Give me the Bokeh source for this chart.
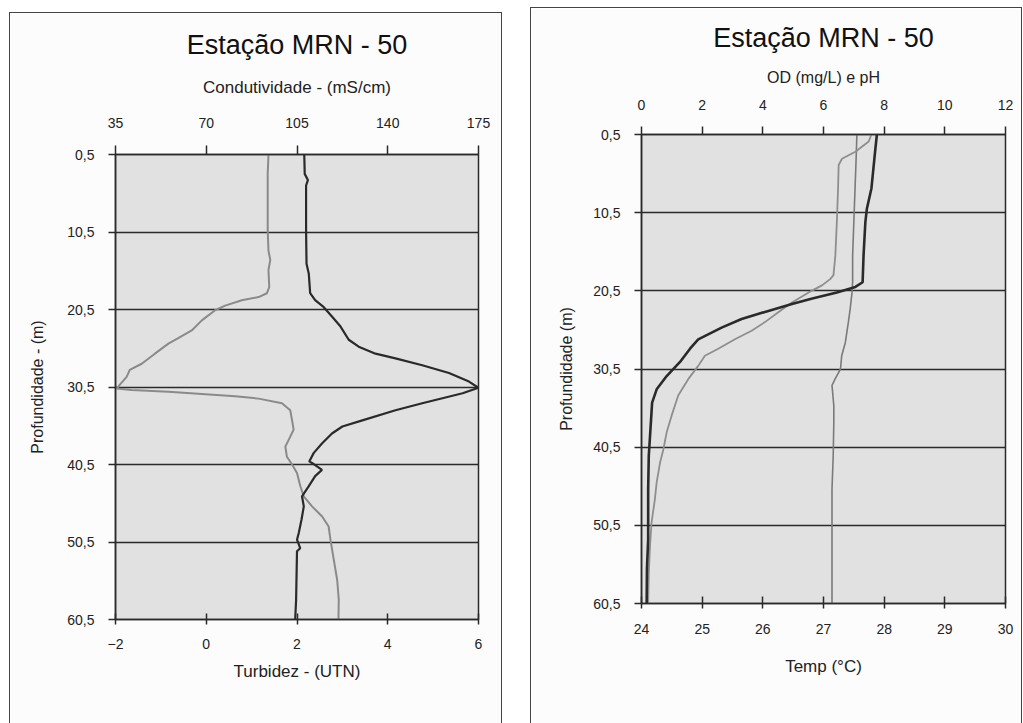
from bokeh.plotting import figure
from bokeh.models import Range1d, LinearAxis, FixedTicker, Legend, LegendItem
from bokeh.layouts import row, column
from bokeh.embed import file_html
from bokeh.resources import INLINE

FONT = "Liberation Sans"

# ---------------- data ----------------
depth_ticks = [0.5, 10.5, 20.5, 30.5, 40.5, 50.5, 60.5]
depth_labels = ["0,5", "10,5", "20,5", "30,5", "40,5", "50,5", "60,5"]

cond_ticks = [35, 70, 105, 140, 175]
turb_ticks = [-2, 0, 2, 4, 6]
od_ticks = [0, 2, 4, 6, 8, 10, 12]
temp_ticks = [24, 25, 26, 27, 28, 29, 30]

# Left: turbidity (UTN) vs depth
turb_depth = [0.5, 3.0, 3.8, 4.5, 10.3, 14.6, 15.9, 18.4, 19.3, 20.2, 21.4, 22.7, 24.4,
              25.3, 26.2, 26.8, 27.7, 28.7, 29.8, 30.6, 31.3, 32.6, 33.5, 34.8, 35.6,
              36.5, 37.8, 39.0, 40.1, 40.3, 41.2, 42.0, 43.3, 44.6, 45.9, 47.6, 49.3,
              50.2, 51.3, 51.7, 58.0, 60.5]
turb_vals = [2.16, 2.17, 2.24, 2.20, 2.20, 2.21, 2.26, 2.29, 2.40, 2.59, 2.77, 2.96, 3.14,
             3.36, 3.73, 4.17, 4.76, 5.35, 5.79, 6.00, 5.65, 4.76, 4.17, 3.44, 3.00,
             2.77, 2.55, 2.37, 2.27, 2.33, 2.55, 2.40, 2.26, 2.11, 2.15, 2.10, 2.04,
             2.00, 2.07, 2.00, 1.98, 1.96]

# Left: specific conductance (mS/cm) vs depth
cond_depth = [0.5, 3.0, 10.3, 12.9, 14.1, 15.4, 17.6, 18.4, 18.9, 19.3, 20.0, 20.6, 21.9,
              23.2, 24.2, 24.9, 26.2, 27.5, 28.3, 29.2, 30.2, 30.7, 30.9, 31.1, 31.4,
              31.7, 32.0, 32.6, 33.5, 34.8, 36.0, 36.9, 38.2, 39.5, 40.5, 41.6, 43.3,
              44.6, 45.9, 47.2, 48.5, 50.2, 52.8, 55.4, 57.9, 60.5]
cond_vals = [94.0, 93.7, 93.7, 94.0, 94.7, 94.0, 94.3, 93.4, 90.2, 83.7, 77.3, 73.4, 68.3,
             64.4, 59.2, 55.4, 50.2, 45.1, 40.5, 39.3, 36.7, 35.4, 41.2, 55.4, 68.3,
             81.2, 90.2, 99.2, 102.4, 103.1, 103.7, 102.4, 100.5, 101.1, 103.1, 105.0, 106.3,
             107.6, 110.8, 114.7, 117.2, 117.9, 119.2, 120.5, 121.1, 121.0]

# Right: OD (mg/L) vs depth
od_depth = [0.5, 3.1, 7.4, 10.0, 11.7, 16.0, 19.4, 20.0, 20.7, 21.5, 22.2, 23.2, 24.1,
            25.2, 26.7, 27.9, 29.6, 31.4, 33.1, 34.8, 37.3, 41.6, 45.9, 52.3, 56.0, 60.5]
od_vals = [7.76, 7.69, 7.58, 7.43, 7.38, 7.32, 7.29, 7.05, 6.44, 5.60, 4.96, 4.07, 3.30,
           2.64, 1.87, 1.60, 1.27, 0.83, 0.50, 0.35, 0.31, 0.24, 0.22, 0.22, 0.18, 0.17]

# Right: pH vs depth
ph_depth = [0.5, 1.4, 2.7, 3.6, 4.4, 7.4, 11.7, 16.0, 18.5, 19.0, 19.8, 20.7, 22.0, 23.2,
            24.5, 25.6, 26.7, 27.9, 28.8, 30.1, 31.8, 33.9, 36.5, 38.6, 40.8, 42.5, 45.0,
            47.2, 50.2, 53.2, 56.6, 60.5]
ph_vals = [7.58, 7.49, 7.05, 6.61, 6.50, 6.48, 6.44, 6.39, 6.33, 6.22, 5.95, 5.51, 4.96, 4.52,
           4.07, 3.63, 3.08, 2.53, 2.09, 1.87, 1.54, 1.21, 0.99, 0.83, 0.72, 0.61, 0.50,
           0.44, 0.33, 0.28, 0.24, 0.22]

# Right: temperature (°C) vs depth
temp_depth = [0.5, 3.1, 7.4, 11.7, 16.0, 19.4, 20.7, 22.8, 24.5, 27.1, 28.8, 30.5, 31.8,
              32.6, 35.2, 37.3, 41.6, 45.9, 60.5]
temp_vals = [27.55, 27.54, 27.52, 27.50, 27.48, 27.48, 27.47, 27.44, 27.41, 27.36, 27.30,
             27.28, 27.19, 27.14, 27.17, 27.17, 27.16, 27.14, 27.14]

# ---------------- styling helpers ----------------
BG = "#e1e1e1"
DARK = "#2a2a2a"
PAGE = "#fcfcfc"


def style_axis(ax, size="14px"):
    ax.major_label_text_font = FONT
    ax.major_label_text_font_size = size
    ax.major_label_text_color = "#222222"
    ax.axis_label_text_font = FONT
    ax.axis_label_text_font_style = "normal"
    ax.axis_label_text_color = "#222222"
    ax.axis_line_color = DARK
    ax.axis_line_width = 1.5
    ax.major_tick_line_color = DARK
    ax.major_tick_line_width = 1.5
    ax.minor_tick_line_color = None


def depth_axis(p, label, label_size, standoff_lbl, standoff_ticks):
    ax = p.left[0]
    ax.ticker = FixedTicker(ticks=depth_ticks)
    ax.major_label_overrides = {t: l for t, l in zip(depth_ticks, depth_labels)}
    style_axis(ax)
    ax.axis_label = label
    ax.axis_label_text_font_size = label_size
    ax.axis_label_standoff = standoff_lbl
    ax.major_tick_out = 7
    ax.major_tick_in = 0
    ax.major_label_standoff = standoff_ticks
    p.ygrid.ticker = FixedTicker(ticks=depth_ticks)
    p.ygrid.grid_line_color = DARK
    p.ygrid.grid_line_width = 1.4
    p.xgrid.grid_line_color = None


def base_fig(fw, fh, xr, borders, xloc):
    l, r, t, b = borders
    p = figure(frame_width=fw, frame_height=fh, x_range=xr, y_range=Range1d(60.5, 0.5),
               output_backend="svg", toolbar_location=None, x_axis_location=xloc,
               min_border_left=l, min_border_right=r, min_border_top=t, min_border_bottom=b,
               background_fill_color=BG, border_fill_color=PAGE,
               outline_line_color=DARK, outline_line_width=1.5)
    return p


def style_title(p, standoff):
    p.title.text = "Estação MRN - 50"
    p.title.text_font = FONT
    p.title.text_font_size = "27px"
    p.title.text_font_style = "normal"
    p.title.align = "center"
    p.title.text_color = "#111111"
    p.title.standoff = standoff


# ---------------- left figure ----------------
p1 = base_fig(363, 465, Range1d(-2, 6), (105, 23, 141, 102), "below")
style_title(p1, 29)

bx1 = p1.below[0]
bx1.ticker = FixedTicker(ticks=turb_ticks)
style_axis(bx1)
bx1.axis_label = "Turbidez - (UTN)"
bx1.axis_label_text_font_size = "17px"
bx1.axis_label_standoff = 10
bx1.major_tick_out = 5
bx1.major_tick_in = 6
bx1.major_label_standoff = 14

p1.extra_x_ranges = {"cond": Range1d(35, 175)}
top1 = LinearAxis(x_range_name="cond", ticker=FixedTicker(ticks=cond_ticks))
style_axis(top1)
top1.axis_label = "Condutividade - (mS/cm)"
top1.axis_label_text_font_size = "17px"
top1.axis_label_standoff = 18
top1.major_tick_out = 9
top1.major_tick_in = 0
top1.major_label_standoff = 18
p1.add_layout(top1, "above")

depth_axis(p1, "Profundidade - (m)", "16px", 18, 14)

r_cond = p1.line(cond_vals, cond_depth, x_range_name="cond", line_color="#8a8a8a", line_width=2)
r_turb = p1.line(turb_vals, turb_depth, line_color=DARK, line_width=2.2)

leg1 = Legend(items=[LegendItem(label="SpCond", renderers=[r_cond]),
                     LegendItem(label="Turbidity", renderers=[r_turb])],
              orientation="horizontal", location="center",
              label_text_font=FONT, label_text_font_size="15px",
              glyph_width=48, glyph_height=14, label_standoff=3, spacing=10,
              padding=2, margin=0, border_line_color=None, background_fill_alpha=0)
p1.add_layout(leg1, "below")

# ---------------- right figure ----------------
p2 = base_fig(364, 469, Range1d(0, 12), (110, 16, 125, 119), "above")
style_title(p2, 25)

top2 = p2.above[0]
top2.ticker = FixedTicker(ticks=od_ticks)
style_axis(top2)
top2.axis_label = "OD (mg/L) e pH"
top2.axis_label_text_font_size = "16px"
top2.axis_label_standoff = 11
top2.major_tick_out = 8
top2.major_tick_in = 0
top2.major_label_standoff = 17

p2.extra_x_ranges = {"temp": Range1d(24, 30)}
bx2 = LinearAxis(x_range_name="temp", ticker=FixedTicker(ticks=temp_ticks))
style_axis(bx2)
bx2.axis_label = "Temp (°C)"
bx2.axis_label_text_font_size = "17px"
bx2.axis_label_standoff = 20
bx2.major_tick_out = 5
bx2.major_tick_in = 7
bx2.major_label_standoff = 15
p2.add_layout(bx2, "below")

depth_axis(p2, "Profundidade (m)", "16px", 15, 14)

r_temp = p2.line(temp_vals, temp_depth, x_range_name="temp", line_color="#7a7a7a", line_width=1.6)
r_ph = p2.line(ph_vals, ph_depth, line_color="#8e8e8e", line_width=1.8)
r_od = p2.line(od_vals, od_depth, line_color=DARK, line_width=2.6)

leg2 = Legend(items=[LegendItem(label="OD (mg/L)", renderers=[r_od]),
                     LegendItem(label="pH", renderers=[r_ph]),
                     LegendItem(label="Temp (°C)", renderers=[r_temp])],
              orientation="horizontal", location="center",
              label_text_font=FONT, label_text_font_size="16px",
              glyph_width=48, glyph_height=14, label_standoff=3, spacing=12,
              padding=2, margin=0, border_line_color=None, background_fill_alpha=0)
p2.add_layout(leg2, "below")

box1 = column(p1, margin=(12, 0, 0, 9), styles={"border": "1px solid #444444"})
box2 = column(p2, margin=(7, 0, 0, 0), styles={"border": "1px solid #444444"})
layout = row(box1, box2, spacing=28)

open("out.html", "w").write(file_html(layout, INLINE))
